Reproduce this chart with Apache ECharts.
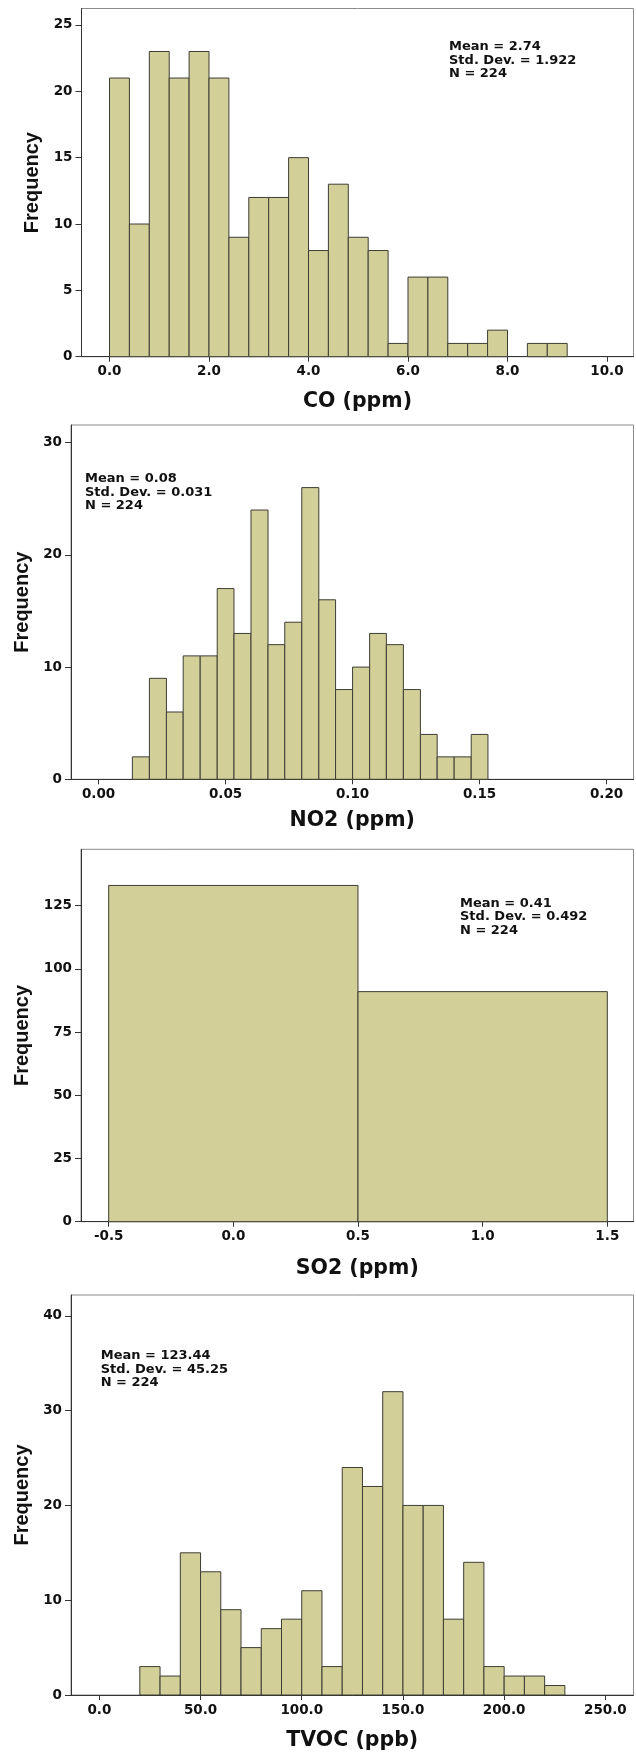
<!DOCTYPE html>
<html>
<head>
<meta charset="utf-8">
<script src="https://cdn.jsdelivr.net/npm/echarts/dist/echarts.min.js"></script>
<style>
html,body{margin:0;padding:0;background:#fff;}
#chart{width:636px;height:1756px;}
</style>
</head>
<body>
<div id="chart"></div>
<script>
// ---- data ----
const coEdges = [0.0,0.4,0.8,1.2,1.6,2.0,2.4,2.8,3.2,3.6,4.0,4.4,4.8,5.2,5.6,6.0,6.4,6.8,7.2,7.6,8.0,8.4,8.8,9.2];
const coCounts = [21,10,23,21,23,21,9,12,12,15,8,13,9,8,1,6,6,1,1,2,0,1,1];
const coXTicks = [0,2,4,6,8,10];
const coYTicks = [0,5,10,15,20,25];
const coStats = ['Mean = 2.74','Std. Dev. = 1.922','N = 224'];

const no2Edges = [0.0133,0.0200,0.0267,0.0333,0.0400,0.0467,0.0533,0.0600,0.0667,0.0733,0.0800,0.0867,0.0933,0.1000,0.1067,0.1133,0.1200,0.1267,0.1333,0.1400,0.1467,0.1533];
const no2Counts = [2,9,6,11,11,17,13,24,12,14,26,16,8,10,13,12,8,4,2,2,4];
const no2XTicks = [0,0.05,0.1,0.15,0.2];
const no2YTicks = [0,10,20,30];
const no2Stats = ['Mean = 0.08','Std. Dev. = 0.031','N = 224'];

const so2Edges = [-0.5,0.5,1.5];
const so2Counts = [133,91];
const so2XTicks = [-0.5,0,0.5,1,1.5];
const so2YTicks = [0,25,50,75,100,125];
const so2Stats = ['Mean = 0.41','Std. Dev. = 0.492','N = 224'];

const tvocEdges = [20,30,40,50,60,70,80,90,100,110,120,130,140,150,160,170,180,190,200,210,220,230];
const tvocCounts = [3,2,15,13,9,5,7,8,11,3,24,22,32,20,20,8,14,3,2,2,1];
const tvocXTicks = [0,50,100,150,200,250];
const tvocYTicks = [0,10,20,30,40];
const tvocStats = ['Mean = 123.44','Std. Dev. = 45.25','N = 224'];

// ---- layout ----
const panels = [
  {edges:coEdges, counts:coCounts, xt:coXTicks, yt:coYTicks, stats:coStats, dec:1, title:'CO (ppm)',
   grid:{left:81.5, top:8.5, width:552, height:348.2}, xmin:-0.563, xmax:10.533, ymax:26.24,
   nameGap:34, yNameGap:37.5, statPos:[449,40]},
  {edges:no2Edges, counts:no2Counts, xt:no2XTicks, yt:no2YTicks, stats:no2Stats, dec:2, title:'NO2 (ppm)',
   grid:{left:71, top:425, width:562.5, height:354.3}, xmin:-0.01087, xmax:0.2106, ymax:31.58,
   nameGap:31, yNameGap:36.5, statPos:[85,472]},
  {edges:so2Edges, counts:so2Counts, xt:so2XTicks, yt:so2YTicks, stats:so2Stats, dec:1, title:'SO2 (ppm)',
   grid:{left:81, top:849.3, width:552.5, height:372.4}, xmin:-0.611, xmax:1.605, ymax:147.3,
   nameGap:36, yNameGap:46.5, statPos:[460,896.5]},
  {edges:tvocEdges, counts:tvocCounts, xt:tvocXTicks, yt:tvocYTicks, stats:tvocStats, dec:1, title:'TVOC (ppb)',
   grid:{left:71, top:1295, width:562.5, height:400}, xmin:-14.0, xmax:263.9, ymax:42.2,
   nameGap:35, yNameGap:36.5, statPos:[100.7,1349]}
];

const FILL = '#D3CF99', STROKE = '#3d3d35', AXIS = '#333333', FRAME = '#8a8a8a';
const LABEL_FONT = {fontFamily:'DejaVu Sans', fontWeight:'bold', fontSize:13.5, color:'#111'};

function renderHist(params, api) {
  const c = api.value(2);
  if (!c) return null;
  const p0 = api.coord([api.value(0), c]);
  const p1 = api.coord([api.value(1), 0]);
  return {
    type:'rect',
    shape:{x:p0[0], y:p0[1], width:p1[0]-p0[0], height:p1[1]-p0[1]},
    style:{fill:FILL, stroke:STROKE, lineWidth:1}
  };
}

const option = {
  animation:false,
  backgroundColor:'#ffffff',
  grid:[], xAxis:[], yAxis:[], series:[], graphic:[]
};

panels.forEach((p, i) => {
  option.grid.push(Object.assign({show:true, borderColor:FRAME, borderWidth:1, backgroundColor:'transparent'}, p.grid));
  option.xAxis.push({
    type:'value', gridIndex:i, min:p.xmin, max:p.xmax, position:'bottom',
    name:p.title, nameLocation:'middle', nameGap:p.nameGap,
    nameTextStyle:{fontFamily:'DejaVu Sans', fontWeight:'bold', fontSize:20.5, color:'#111'},
    axisLine:{show:true, onZero:false, lineStyle:{color:AXIS, width:1}},
    axisTick:{show:true, length:5, lineStyle:{color:AXIS}, customValues:p.xt},
    axisLabel:Object.assign({margin:8, customValues:p.xt, formatter:v => Number(v).toFixed(p.dec)}, LABEL_FONT),
    splitLine:{show:false}
  });
  option.yAxis.push({
    type:'value', gridIndex:i, min:0, max:p.ymax, position:'left',
    name:'Frequency', nameLocation:'middle', nameGap:p.yNameGap,
    nameTextStyle:{fontFamily:'Liberation Sans', fontWeight:'bold', fontSize:20, color:'#111'},
    axisLine:{show:true, onZero:false, lineStyle:{color:AXIS, width:1}},
    axisTick:{show:true, length:6, lineStyle:{color:AXIS}, customValues:p.yt},
    axisLabel:Object.assign({margin:9, customValues:p.yt, formatter:v => String(Math.round(v))}, LABEL_FONT),
    splitLine:{show:false}
  });
  const data = p.counts.map((c, k) => [p.edges[k], p.edges[k+1], c]);
  option.series.push({
    type:'custom', xAxisIndex:i, yAxisIndex:i, renderItem:renderHist,
    encode:{x:[0,1], y:2}, data:data, silent:true
  });
  option.graphic.push({
    type:'text', left:p.statPos[0], top:p.statPos[1],
    style:{text:p.stats.join('\n'), fontFamily:'DejaVu Sans', fontWeight:'bold', fontSize:13, lineHeight:13.5, fill:'#111'}
  });
});

const chart = echarts.init(document.getElementById('chart'), null, {renderer:'canvas'});
chart.setOption(option);
</script>
</body>
</html>
